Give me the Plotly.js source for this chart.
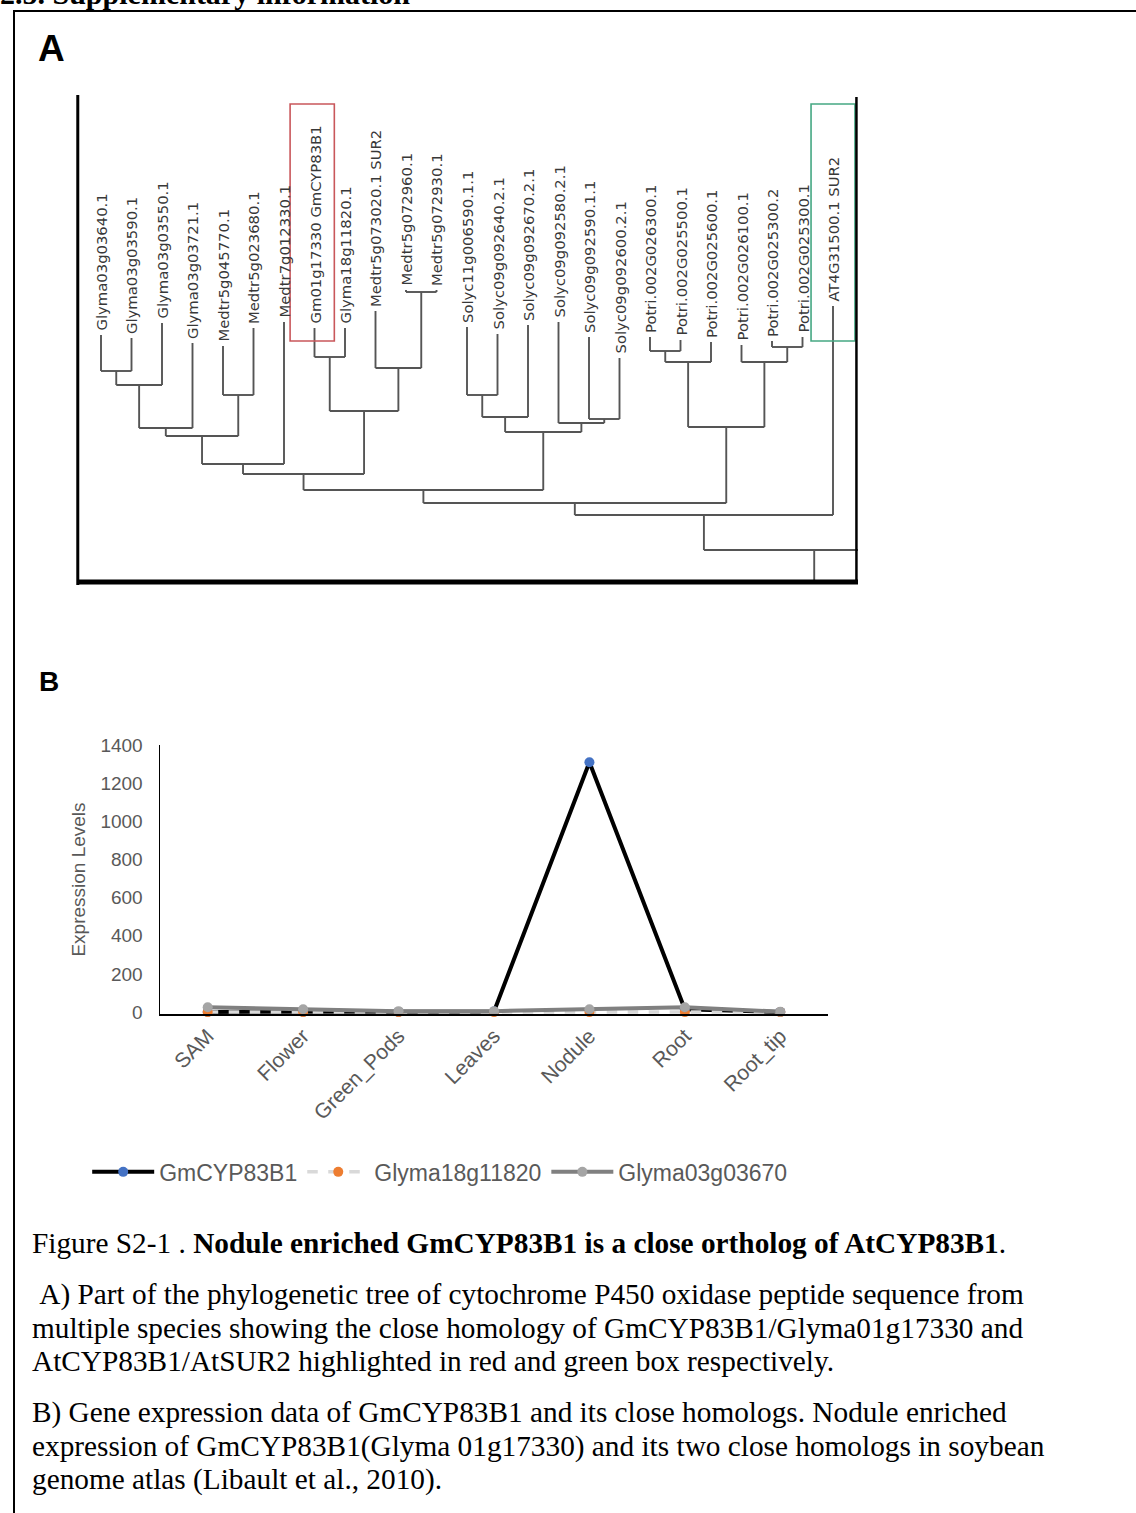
<!DOCTYPE html>
<html><head><meta charset="utf-8">
<script src="https://cdn.plot.ly/plotly-3.0.1.min.js"></script>
<style>
html,body{margin:0;padding:0;width:1136px;height:1513px;overflow:hidden;background:#fff;}
#frame{position:absolute;left:13px;top:10px;width:1300px;height:1700px;border:2px solid #000;box-sizing:border-box;}
.head{position:absolute;left:0px;top:-21px;font-family:"Liberation Serif","Times New Roman",serif;font-weight:bold;font-size:30px;line-height:30px;white-space:nowrap;}
.lab{position:absolute;font-family:"Liberation Sans",Arial,sans-serif;font-weight:bold;line-height:1;color:#000;}
.cap{position:absolute;left:32px;font-family:"Liberation Serif","Times New Roman",serif;font-size:29.3px;line-height:33.5px;white-space:nowrap;color:#000;}
#tree{position:absolute;left:70px;top:90px;width:795px;height:500px;}
#expr{position:absolute;left:0px;top:700px;width:1136px;height:520px;}
</style></head>
<body>
<div class="head">2.5. Supplementary information</div>
<div id="frame"></div>
<div class="lab" style="left:38px;top:30px;font-size:37px;">A</div>
<div class="lab" style="left:39px;top:668px;font-size:28px;">B</div>
<div id="tree"></div>
<div id="expr"></div>
<div class="cap" style="top:1227px;">Figure S2-1 . <b>Nodule enriched GmCYP83B1 is a close ortholog of AtCYP83B1</b>.</div>
<div class="cap" style="top:1278px;">&nbsp;A) Part of the phylogenetic tree of cytochrome P450 oxidase peptide sequence from<br>multiple species showing the close homology of GmCYP83B1/Glyma01g17330 and<br>AtCYP83B1/AtSUR2 highlighted in red and green box respectively.</div>
<div class="cap" style="top:1396px;">B) Gene expression data of GmCYP83B1 and its close homologs. Nodule enriched<br>expression of GmCYP83B1(Glyma 01g17330) and its two close homologs in soybean<br>genome atlas (Libault et al., 2010).</div>
<script>
// ---------------- Panel A: tree data ----------------
const leafNames = [
  "Glyma03g03640.1","Glyma03g03590.1","Glyma03g03550.1","Glyma03g03721.1",
  "Medtr5g045770.1","Medtr5g023680.1","Medtr7g012330.1","Gm01g17330 GmCYP83B1",
  "Glyma18g11820.1","Medtr5g073020.1 SUR2","Medtr5g072960.1","Medtr5g072930.1",
  "Solyc11g006590.1.1","Solyc09g092640.2.1","Solyc09g092670.2.1","Solyc09g092580.2.1",
  "Solyc09g092590.1.1","Solyc09g092600.2.1","Potri.002G026300.1","Potri.002G025500.1",
  "Potri.002G025600.1","Potri.002G026100.1","Potri.002G025300.2","Potri.002G025300.1",
  "AT4G31500.1 SUR2"
];
// height of each leaf tip above the tree baseline
const leafTips = [247,244,259,239,236,254,260,254,254,271,292,292,255,248,257,260,245,224,245,242,240,237,241,245,276];
// outgroup leaf beyond the cropped edge (position index, tip height)
const outgroupPos = 27;
const outgroupTip = 250;
// joins: [node, childA, childB, height]
const treeJoins = [
  ["n1","L0","L1",211],["n2","n1","L2",197],["n3","n2","L3",154],
  ["n4","L4","L5",187],["n5","n3","n4",146],["n6","n5","L6",118],
  ["n7","L7","L8",225],["n8","L10","L11",290],["n9","L9","n8",214],
  ["n10","n7","n9",171],["n11","n6","n10",108],
  ["s1","L12","L13",187],["s2","s1","L14",165],["s3","L16","L17",163],
  ["s4","L15","s3",159],["s5","s2","s4",150],["n12","n11","s5",92],
  ["p1","L18","L19",231],["p2","p1","L20",220],["p3","L22","L23",235],
  ["p4","L21","p3",220],["p5","p2","p4",155],["n13","n12","p5",79],
  ["n14","n13","L24",67],["root","n14","OUT",32]
];
const rootStem = 0;
const redLeaf = 7, greenLeaf = 24;
const boxTop = 478, boxBottom = 241;

// ---------------- Panel B: expression data ----------------
const tissues = ["SAM","Flower","Green_Pods","Leaves","Nodule","Root","Root_tip"];
const gmCYP83B1 = [1, 1, 1, 3, 1310, 15, 1];
const glyma18g11820 = [0, 0, 0, 0, 0, 0, 0];
const glyma03g03670 = [25, 15, 5, 5, 15, 25, 2];

// ---- build tree geometry ----
const pos = {}, ht = {};
leafNames.forEach((n,i)=>{pos["L"+i]=i; ht["L"+i]=leafTips[i];});
pos["OUT"]=outgroupPos; ht["OUT"]=outgroupTip;
const tx=[], ty=[];
treeJoins.forEach(([n,a,b,h])=>{
  pos[n]=(pos[a]+pos[b])/2; ht[n]=h;
  [a,b].forEach(c=>{tx.push(pos[c],pos[c],null); ty.push(ht[c],h,null);});
  tx.push(pos[a],pos[b],null); ty.push(h,h,null);
});
tx.push(pos["root"],pos["root"],null); ty.push(ht["root"],rootStem,null);

const treeAnn = leafNames.map((n,i)=>({
  x:i, y:leafTips[i], xref:"x", yref:"y", text:n, showarrow:false,
  textangle:-90, xanchor:"center", yanchor:"bottom", yshift:2,
  font:{family:"DejaVu Sans, sans-serif", size:14.8, color:"#383838"}
}));
const treeShapes = [
  {type:"rect",xref:"x",yref:"y",x0:redLeaf-0.8,x1:redLeaf+0.65,y0:boxBottom,y1:boxTop,line:{color:"#c9575b",width:1.6}},
  {type:"rect",xref:"x",yref:"y",x0:greenLeaf-0.72,x1:greenLeaf+0.72,y0:boxBottom,y1:boxTop,line:{color:"#45a883",width:1.6}},
  {type:"line",xref:"paper",yref:"paper",x0:0.001,x1:0.001,y0:0,y1:1,line:{color:"#000",width:3}},
  {type:"line",xref:"paper",yref:"y",x0:0,x1:1,y0:0,y1:0,line:{color:"#000",width:5}},
  {type:"line",xref:"paper",yref:"y",x0:0.998,x1:0.998,y0:0,y1:485,line:{color:"#000",width:2.5}}
];
Plotly.newPlot("tree",[{
  type:"scatter",mode:"lines",x:tx,y:ty,hoverinfo:"skip",
  line:{color:"#555",width:1.9},showlegend:false
}],{
  width:795,height:500,margin:{l:7,r:7,t:5,b:5},
  paper_bgcolor:"rgba(0,0,0,0)",plot_bgcolor:"rgba(0,0,0,0)",
  xaxis:{range:[-24/30.5,757/30.5],visible:false,fixedrange:true},
  yaxis:{range:[-3,487],visible:false,fixedrange:true},
  annotations:treeAnn, shapes:treeShapes, showlegend:false
},{staticPlot:true});

// ---- expression chart ----
const fontG = "Liberation Sans, Arial, sans-serif";
Plotly.newPlot("expr",[
  {type:"scatter",mode:"lines+markers",name:"GmCYP83B1",x:tissues,y:gmCYP83B1,
   line:{color:"#000",width:4},marker:{color:"#4472c4",size:10},cliponaxis:false},
  {type:"scatter",mode:"lines+markers",name:"Glyma18g11820",x:tissues,y:glyma18g11820,
   line:{color:"#d9d9d9",width:3.5,dash:"dash"},marker:{color:"#ed7d31",size:10},cliponaxis:false},
  {type:"scatter",mode:"lines+markers",name:"Glyma03g03670",x:tissues,y:glyma03g03670,
   line:{color:"#808080",width:4},marker:{color:"#a5a5a5",size:10},cliponaxis:false}
],{
  width:1136,height:520,margin:{l:160,r:308,t:45,b:206},
  paper_bgcolor:"rgba(0,0,0,0)",plot_bgcolor:"rgba(0,0,0,0)",
  font:{family:fontG,color:"#595959"},
  xaxis:{type:"category",range:[-0.5,6.5],showline:true,linecolor:"#000",linewidth:1.5,
    showgrid:false,zeroline:false,ticks:"",tickangle:-45,tickfont:{size:21,color:"#595959"},fixedrange:true},
  yaxis:{range:[-10,1400],tickvals:[0,200,400,600,800,1000,1200,1400],showline:true,linecolor:"#000",linewidth:1.5,
    showgrid:false,zeroline:false,ticks:"",ticklabelstandoff:12,tickfont:{size:19,color:"#595959"},
    title:{text:"Expression Levels",font:{size:19,color:"#595959"},standoff:10},fixedrange:true},
  showlegend:true,
  legend:{orientation:"h",x:-0.109,xanchor:"left",y:-0.587,yanchor:"middle",itemwidth:62,
    font:{size:23,color:"#595959"},bgcolor:"rgba(0,0,0,0)"}
},{staticPlot:true});
</script>
</body></html>
